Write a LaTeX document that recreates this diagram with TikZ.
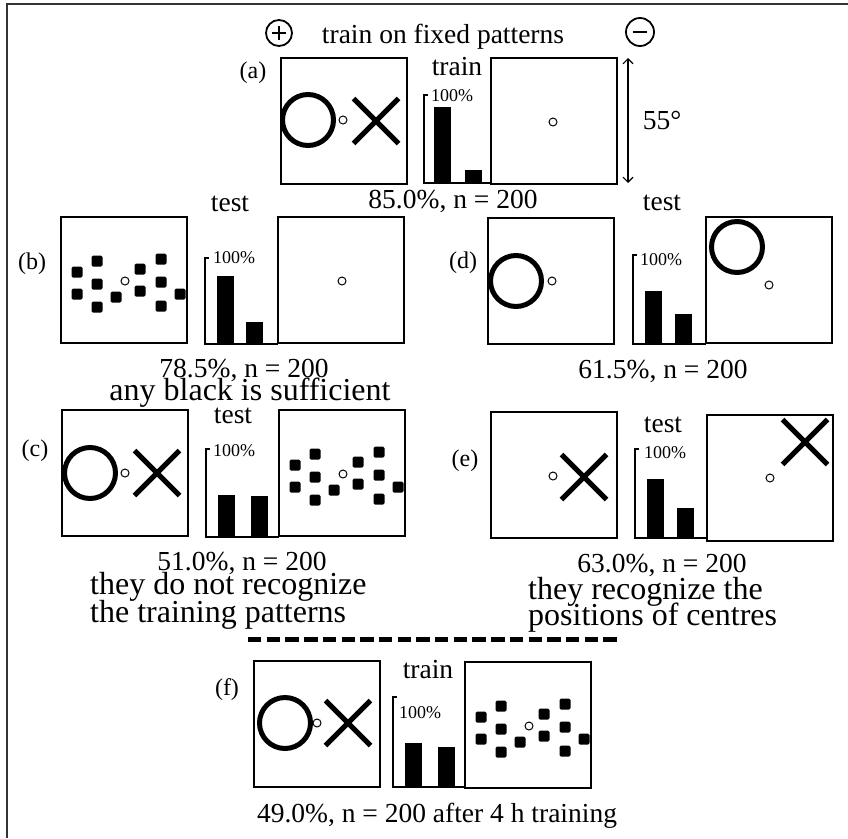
\documentclass[tikz,border=0pt]{standalone}
\usepackage{fontspec}
\setmainfont{Liberation Serif}
\usetikzlibrary{arrows.meta}
\newcommand\fsz[1]{\fontsize{#1}{#1}\selectfont}
\newcommand\pbox[2]{\draw[boxline] (#1,#2) rectangle ++(126,126);}
\newcommand\ring[2]{\draw[ringline] (#1,#2) circle (25.5);}
\newcommand\smallc[2]{\draw[smallline,fill=white] (#1,#2) circle (4);}
\newcommand\cross[2]{\draw[ringline] (#1-22.5,#2-22.5) -- (#1+22.5,#2+22.5) (#1-22.5,#2+22.5) -- (#1+22.5,#2-22.5);}
\newcommand\pat[2]{%
  \foreach \dx/\dy in {16/55,36/44,16/77,36/67,36/90,55/80,79/52,79/74,100/42,100/65,100/89,119/77}
    {\fill[rounded corners=1.5] (#1+\dx-5.5,#2+\dy-5.5) rectangle ++(11,11);}
  \smallc{#1+64}{#2+64}}
% axis x, top, bottom, bar1 left, bar1 top, bar2 left, bar2 top, right end
\newcommand\bars[8]{%
  \draw[boxline] (#1+4,#2) -- (#1,#2) -- (#1,#3) -- (#8,#3);
  \fill (#4,#3) rectangle (#4+17,#5);
  \fill (#6,#3) rectangle (#6+17,#7);}
\begin{document}
\begin{tikzpicture}[x=1pt,y=-1pt,
  boxline/.style={line width=1.4pt},
  ringline/.style={line width=5pt},
  smallline/.style={line width=1pt},
  lbl/.style={inner sep=0pt,anchor=base,font=\fsz{27.5}},
  big/.style={inner sep=0pt,anchor=base west,font=\fsz{32}},
  bigc/.style={inner sep=0pt,anchor=base,font=\fsz{32}},
  pct/.style={inner sep=0pt,anchor=base west,font=\fsz{18}},
  tag/.style={inner sep=0pt,anchor=base,font=\fsz{24}}]
\useasboundingbox (0,0) rectangle (848,838);
\fill[white] (0,0) rectangle (848,838);
\draw[line width=1.6pt,black!80] (7,838) -- (7,4) -- (848,4);

% ---- header
\draw[line width=1.8pt] (279,33) circle (13);
\draw[line width=2.2pt] (272,33) -- (286,33) (279,26) -- (279,40);
\draw[line width=1.8pt] (640,32) circle (14);
\draw[line width=2.2pt] (633,32) -- (647,32);
\node[lbl] (title) at (443,43) {train on fixed patterns};

% ---- (a)
\node[tag] (ta) at (253,78) {(a)};
\pbox{281}{58} \ring{308}{120} \smallc{343}{120} \cross{376}{121}
\node[lbl] (traina) at (457,75) {train};
\bars{424}{95}{183}{434}{107}{465}{170}{491}
\node[pct] (pa) at (431,101) {100\%};
\pbox{491}{58} \smallc{553}{122}
\coordinate (atop) at (628,58);
\coordinate (abot) at (628,183);
\draw[line width=1.1pt,{Straight Barb[length=5pt,width=10pt]}-{Straight Barb[length=5pt,width=10pt]}] (atop) -- (abot);
\node[lbl] (deg) at (662,129) {55°};
\node[lbl] (ra) at (453,208) {85.0\%, n = 200};

% ---- (b)
\node[tag] (tb) at (32,269) {(b)};
\pbox{61}{217} \pat{61}{217}
\node[lbl] (testb) at (230,211) {test};
\bars{205}{258}{344}{217}{276}{246}{322}{278}
\node[pct] (pb) at (213,263) {100\%};
\pbox{278}{217} \smallc{342}{281}
\node[lbl] (rb) at (244,377) {78.5\%, n = 200};
\node[bigc] (cb) at (250,400) {any black is sufficient};

% ---- (d)
\node[tag] (td) at (463,268) {(d)};
\pbox{488}{218} \ring{516}{281} \smallc{552}{281}
\node[lbl] (testd) at (662,210) {test};
\bars{633}{255}{344}{645}{291}{675}{314}{706}
\node[pct] (pd) at (640,265) {100\%};
\pbox{706}{217} \ring{737}{247} \smallc{769}{285}
\node[lbl] (rd) at (663,378) {61.5\%, n = 200};

% ---- (c)
\node[tag] (tc) at (35,456) {(c)};
\pbox{62}{410} \ring{90}{473} \smallc{125}{473} \cross{157}{473}
\node[lbl] (testc) at (233,423) {test};
\bars{206}{449}{537}{218}{495}{251}{496}{279}
\node[pct] (pc) at (213,456) {100\%};
\pbox{279}{410} \pat{279}{410}
\node[lbl] (rc) at (242,570) {51.0\%, n = 200};
\node[big] (cc1) at (90,594) {they do not recognize};
\node[big] (cc2) at (90,622) {the training patterns};

% ---- (e)
\node[tag] (te) at (465,466) {(e)};
\pbox{491}{412} \smallc{553}{476} \cross{584}{477}
\node[lbl] (teste) at (663,432) {test};
\bars{635}{449}{538}{647}{479}{677}{508}{707}
\node[pct] (pe) at (644,458) {100\%};
\pbox{707}{415} \cross{805}{442} \smallc{770}{478}
\node[lbl] (re) at (662,572) {63.0\%, n = 200};
\node[big] (ce1) at (528,599) {they recognize the};
\node[big] (ce2) at (528,625) {positions of centres};

% ---- divider
\coordinate (dl) at (248,639);
\coordinate (dr) at (617,639);
\draw[line width=5pt,dash pattern=on 13.4pt off 5.3pt] (dl) -- (dr);

% ---- (f)
\node[tag] (tf) at (227,695) {(f)};
\pbox{254}{661} \ring{285}{723} \smallc{317}{723} \cross{348}{723}
\node[lbl] (trainf) at (428,678) {train};
\bars{393}{697}{787}{405}{743}{438}{747}{465}
\node[pct] (pf) at (399,718) {100\%};
\pbox{465}{662} \pat{465}{662}
\node[lbl] (rf) at (437,822) {49.0\%, n = 200 after 4 h training};
\end{tikzpicture}
\end{document}
